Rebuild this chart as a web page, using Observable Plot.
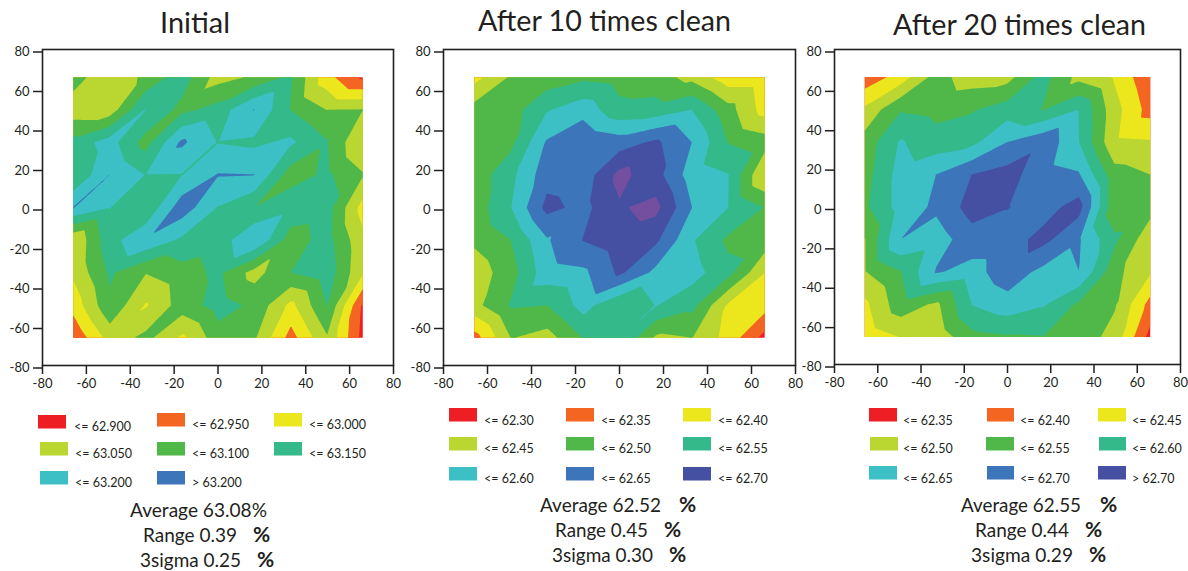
<!DOCTYPE html>
<html><head><meta charset="utf-8">
<script src="https://cdn.jsdelivr.net/npm/d3@7"></script>
<script src="https://cdn.jsdelivr.net/npm/@observablehq/plot@0.6"></script>
<style>
html,body{margin:0;padding:0;background:#fff;width:1188px;height:571px;overflow:hidden}
#page{position:relative;width:1188px;height:571px}
#page svg{position:absolute;overflow:visible;background:transparent}
</style></head><body><div id="page"></div>
<script>
const FONT = "Lato, 'Open Sans', sans-serif";
const INK = "#231f20";
const nodes = [-66,-49.5,-33,-16.5,0,16.5,33,49.5,66];
const tickValues = [-80,-60,-40,-20,0,20,40,60,80];
const bandColors = ["#ed1f24","#f46521","#ebe71c","#bad630","#50b848","#34b98a","#3dbfc6","#3c75b9","#4550a2","#744e9f"];

const titles = ["Initial","After 10 times clean","After 20 times clean"];

// rows run from y = 66 down to y = -66, columns from x = -66 to x = 66
const gridInitial = [
[63.075,63.012,63.06,63.128,63.03,63.057,63.11,62.97,62.89],
[63.02,63.018,63.152,63.085,63.12,63.202,63.10,63.05,63.052],
[63.118,63.173,63.08,63.21,63.148,63.14,63.16,63.105,63.00],
[63.099,63.201,63.149,63.148,63.203,63.201,63.075,63.11,63.055],
[63.202,63.152,63.106,63.23,63.147,63.101,63.137,63.125,62.98],
[63.005,63.13,63.193,63.14,63.12,63.201,63.075,63.12,63.012],
[63.01,63.108,63.052,63.08,63.11,63.03,63.10,63.13,63.005],
[62.97,63.09,62.995,63.075,63.12,63.09,62.985,63.102,62.89],
[62.91,63.02,63.065,62.99,63.08,63.055,62.93,63.045,62.88]];
const gridAfter10 = [
[62.38,62.455,62.47,62.49,62.48,62.47,62.435,62.37,62.37],
[62.47,62.475,62.545,62.58,62.515,62.52,62.55,62.47,62.38],
[62.475,62.485,62.605,62.645,62.625,62.66,62.60,62.498,62.475],
[62.47,62.535,62.63,62.62,62.715,62.67,62.575,62.552,62.398],
[62.47,62.548,62.665,62.635,62.695,62.715,62.60,62.55,62.498],
[62.46,62.50,62.595,62.652,62.68,62.66,62.555,62.49,62.48],
[62.42,62.48,62.58,62.59,62.66,62.585,62.57,62.515,62.40],
[62.435,62.505,62.50,62.57,62.502,62.552,62.515,62.39,62.37],
[62.33,62.452,62.43,62.503,62.55,62.44,62.45,62.38,62.28]];
const gridAfter20 = [
[62.365,62.42,62.52,62.475,62.48,62.57,62.485,62.445,62.36],
[62.46,62.545,62.535,62.545,62.575,62.548,62.60,62.47,62.38],
[62.52,62.605,62.57,62.585,62.65,62.69,62.602,62.46,62.455],
[62.53,62.62,62.65,62.70,62.72,62.67,62.655,62.52,62.50],
[62.54,62.62,62.66,62.72,62.702,62.68,62.72,62.515,62.52],
[62.498,62.65,62.625,62.68,62.68,62.715,62.655,62.56,62.465],
[62.498,62.548,62.655,62.63,62.68,62.635,62.65,62.515,62.455],
[62.44,62.53,62.49,62.602,62.63,62.605,62.54,62.505,62.38],
[62.42,62.452,62.47,62.535,62.545,62.548,62.53,62.48,62.33]];

const thresholdsInitial = [62.0,62.90,62.95,63.00,63.05,63.10,63.15,63.20];
const thresholdsAfter10 = [62.0,62.30,62.35,62.40,62.45,62.50,62.55,62.60,62.65,62.70];
const thresholdsAfter20 = [62.0,62.35,62.40,62.45,62.50,62.55,62.60,62.65,62.70];

const legendInitial = ["<= 62.900","<= 62.950","<= 63.000","<= 63.050","<= 63.100","<= 63.150","<= 63.200","> 63.200"];
const legendAfter10 = ["<= 62.30","<= 62.35","<= 62.40","<= 62.45","<= 62.50","<= 62.55","<= 62.60","<= 62.65","<= 62.70"];
const legendAfter20 = ["<= 62.35","<= 62.40","<= 62.45","<= 62.50","<= 62.55","<= 62.60","<= 62.65","<= 62.70","> 62.70"];

const statsInitial = ["Average 63.08%","Range 0.39","3sigma 0.25"];
const statsAfter10 = ["Average 62.52","Range 0.45","3sigma 0.30"];
const statsAfter20 = ["Average 62.55","Range 0.44","3sigma 0.29"];

// layout
const M = {top:8,right:12,bottom:30,left:46};
const SHEAR = 0.004; // tiny lean so the triangulation of the square lattice uses one diagonal direction
const panels = [
 {grid:gridInitial,thr:thresholdsInitial,legend:legendInitial,stats:statsInitial,x0:41.7,x1:393,y0:48.5,y1:364.5,
  title:{x:160,y:32.5,w:70},
  sw:[[38,415,66],[157,413,185],[274,413,302],[40,442,68],[157,442,185],[274,442,302],[40,471,68],[157,471,185]],
  tx:[[74,431],[192,429],[309,429],[75,458],[192,458],[309,458],[75,487],[192,487]],
  st:[[130,517,267],[143,542,237],[140,567,241]], pct:[null,[253,542],[257,567]]},
 {grid:gridAfter10,thr:thresholdsAfter10,legend:legendAfter10,stats:statsAfter10,x0:442.5,x1:794.5,y0:48.5,y1:364.5,
  title:{x:478,y:31,w:253},
  sw:[[449,408,477],[566,408,594],[683,408,711],[449,437,477],[566,437,594],[683,437,711],[449,467,477],[566,467,594],[683,467,711]],
  tx:[[484,424.5],[601,424.5],[718,424.5],[484,453.3],[601,453.3],[718,453.3],[484,482.7],[601,482.7],[718,482.7]],
  st:[[540,512,661],[555,537,648],[552,562,653]], pct:[[679,512],[664,537],[669,562]]},
 {grid:gridAfter20,thr:thresholdsAfter20,legend:legendAfter20,stats:statsAfter20,x0:833.5,x1:1179.5,y0:48.5,y1:363.5,
  title:{x:893,y:35,w:253},
  sw:[[869,408,897],[987,408,1014],[1098,408,1126],[870,437,898],[986,437,1014],[1099,437,1126],[869,466,897],[987,466,1014],[1098,466,1126]],
  tx:[[903,424.5],[1020,424.5],[1132,424.5],[903,453.3],[1020,453.3],[1132,453.3],[903,482.7],[1020,482.7],[1132,482.7]],
  st:[[961,512,1081],[975,537,1069],[971,562,1073]], pct:[[1100,512],[1085,537],[1089,562]]}
];

const page = document.getElementById("page");
const overlay = d3.select(page).append("svg").attr("width",1188).attr("height",571).style("left",0).style("top",0).style("font-family",FONT);

panels.forEach((p,i)=>{
  const points = p.grid.flatMap((row,r)=>row.map((v,c)=>{
    const y=nodes[nodes.length-1-r];
    return {x:nodes[c]-SHEAR*y,y,v};
  }));
  const chart = Plot.plot({
    width:Math.round(p.x1-p.x0)+M.left+M.right,
    height:Math.round(p.y1-p.y0)+M.top+M.bottom,
    marginTop:M.top,marginRight:M.right,marginBottom:M.bottom,marginLeft:M.left,
    style:{fontFamily:FONT,background:"transparent",color:INK},
    x:{domain:[-80,80]},
    y:{domain:[-80,80]},
    color:{type:"ordinal",domain:p.thr,range:bandColors.slice(0,p.thr.length)},
    marks:[
      Plot.contour(points,{x:"x",y:"y",value:"v",fill:"value",thresholds:p.thr,interpolate:"barycentric",
        x1:-66,x2:66,y1:66,y2:-66,pixelSize:1}),
      Plot.frame({stroke:INK,strokeWidth:1.6}),
      Plot.axisX({ticks:tickValues,tickSize:9,tickPadding:4,tickFormat:String,label:null,fontSize:13,stroke:INK,strokeWidth:1.5,fill:INK}),
      Plot.axisY({ticks:tickValues,tickSize:9,tickPadding:4,tickFormat:String,label:null,fontSize:13,stroke:INK,strokeWidth:1.5,fill:INK,dy:2.5})
    ]
  });
  chart.style.left=(p.x0-M.left)+"px";
  chart.style.top=(p.y0-M.top)+"px";
  page.appendChild(chart);

  overlay.append("text").attr("x",p.title.x).attr("y",p.title.y).attr("font-size",29).attr("fill",INK)
    .attr("textLength",p.title.w).attr("lengthAdjust","spacingAndGlyphs").text(titles[i]);
  p.legend.forEach((t,k)=>{
    const s=p.sw[k];
    overlay.append("rect").attr("x",s[0]).attr("y",s[1]).attr("width",s[2]-s[0]).attr("height",13.5).attr("fill",bandColors[k]);
    overlay.append("text").attr("x",p.tx[k][0]).attr("y",p.tx[k][1]).attr("font-size",12.5).attr("fill",INK).text(t);
  });
  p.stats.forEach((t,k)=>{
    const s=p.st[k];
    overlay.append("text").attr("x",s[0]).attr("y",s[1]).attr("font-size",19).attr("fill",INK)
      .attr("textLength",s[2]-s[0]).attr("lengthAdjust","spacingAndGlyphs").text(t);
    if(p.pct[k]) overlay.append("text").attr("x",p.pct[k][0]).attr("y",p.pct[k][1]).attr("font-size",21).attr("font-weight",700).attr("fill",INK).text("%");
  });
});
</script></body></html>
